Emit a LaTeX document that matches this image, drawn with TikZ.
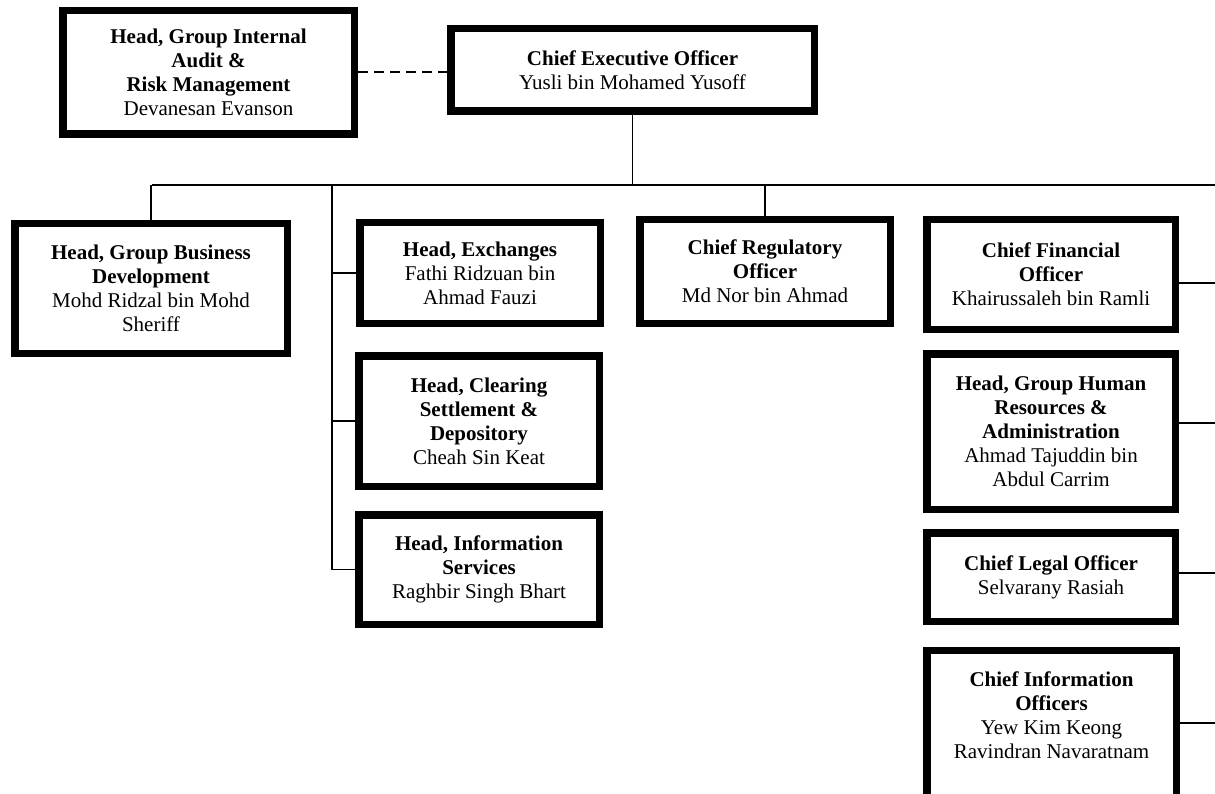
\documentclass[tikz,border=0pt]{standalone}
\usepackage{fontspec}
\setmainfont{Liberation Serif}

\begin{document}
\begin{tikzpicture}[x=1pt,y=-1pt,
	box/.style={draw,line width=7.5pt,align=center,inner sep=0pt,font=\fontsize{21}{24}\selectfont},
	link/.style={line width=1.8pt},
	dotlink/.style={line width=2pt,dash pattern=on 10pt off 6pt}]
	\useasboundingbox (0,0) rectangle (1215,794);
	\clip (0,0) rectangle (1215,794);
	% верхний ряд
	\node[box,minimum width=291.5pt,minimum height=123.5pt] (audit) at (208.5,72.5)
		{\textbf{Head, Group Internal}\\\textbf{Audit \&}\\\textbf{Risk Management}\\Devanesan Evanson};
	\node[box,minimum width=363.5pt,minimum height=82.5pt] (ceo) at (632.5,70)
		{\textbf{Chief Executive Officer}\\Yusli bin Mohamed Yusoff};
	% второй ряд
	\node[box,minimum width=272.5pt,minimum height=129.5pt] (bizdev) at (151,288.5)
		{\textbf{Head, Group Business}\\\textbf{Development}\\Mohd Ridzal bin Mohd\\Sheriff};
	\node[box,minimum width=240.5pt,minimum height=100.5pt] (exch) at (480,273)
		{\textbf{Head, Exchanges}\\Fathi Ridzuan bin\\Ahmad Fauzi};
	\node[box,minimum width=240.5pt,minimum height=130.5pt] (clear) at (479,421)
		{\textbf{Head, Clearing}\\\textbf{Settlement \&}\\\textbf{Depository}\\Cheah Sin Keat};
	\node[box,minimum width=240.5pt,minimum height=109.5pt] (infosvc) at (479,569.5)
		{\textbf{Head, Information}\\\textbf{Services}\\Raghbir Singh Bhart};
	\node[box,minimum width=250.5pt,minimum height=103.5pt] (reg) at (765,271.5)
		{\textbf{Chief Regulatory}\\\textbf{Officer}\\Md Nor bin Ahmad};
	% правая колонка
	\node[box,minimum width=248.5pt,minimum height=109.5pt] (cfo) at (1051,274.5)
		{\textbf{Chief Financial}\\\textbf{Officer}\\Khairussaleh bin Ramli};
	\node[box,minimum width=248.5pt,minimum height=155.5pt] (hr) at (1051,431.5)
		{\textbf{Head, Group Human}\\\textbf{Resources \&}\\\textbf{Administration}\\Ahmad Tajuddin bin\\Abdul Carrim};
	\node[box,minimum width=248.5pt,minimum height=88.5pt] (legal) at (1051,577)
		{\textbf{Chief Legal Officer}\\Selvarany Rasiah};
	\node[box,minimum width=249.5pt,inner ysep=21pt,text depth=150pt,anchor=north] (cio) at (1051.5,646.75)
		{\textbf{Chief Information}\\\textbf{Officers}\\Yew Kim Keong\\Ravindran Navaratnam};
	% линии
	\draw[dotlink] (audit.east) -- (audit.east -| ceo.west);
	\coordinate (busL) at (152,185);
	\coordinate (busR) at (1215,185);
	\coordinate (spine) at (332,185);
	\draw[link] (busL) -- (busR);
	\draw[link] (ceo.south) -- (ceo.south |- busL);
	\draw[link] (bizdev.north) -- (bizdev.north |- busL);
	\draw[link] (reg.north) -- (reg.north |- busL);
	\draw[link] (spine) |- (infosvc.west);
	\foreach \n in {exch,clear}
		\draw[link] (spine |- \n.west) -- (\n.west);
	\foreach \n/\y in {cfo/283,hr/423,legal/573,cio/723}{
		\coordinate (r\n) at (1215,\y);
		\draw[link] (r\n -| \n.east) -- (r\n);}		% к правому краю
\end{tikzpicture}
\end{document}
